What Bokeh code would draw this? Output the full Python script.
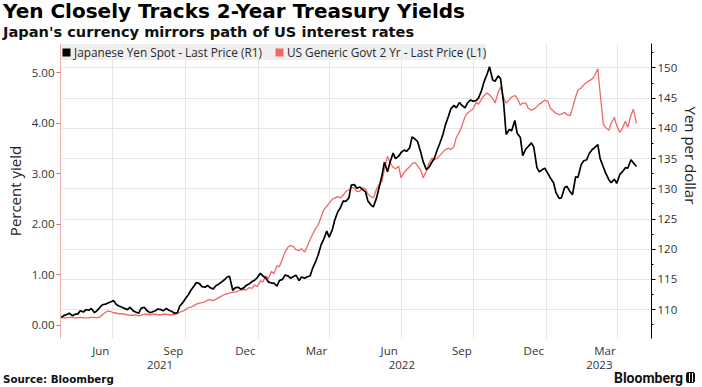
import pandas as pd
from bokeh.plotting import figure
from bokeh.layouts import column
from bokeh.models import (LinearAxis, DatetimeAxis, Range1d, FixedTicker, DatetimeTickFormatter,
                          PrintfTickFormatter, Title, Legend, LegendItem, Div)
from bokeh.embed import file_html
from bokeh.resources import INLINE

# ---- data: twice-weekly readings (Tuesdays and Fridays) ----
tuesdays = pd.date_range("2021-04-27", "2023-04-25", freq="7D")
fridays = pd.date_range("2021-04-30", "2023-04-21", freq="7D")
dates = tuesdays.append(fridays).sort_values()

yen = [108.7, 109.0, 109.2, 109.4, 109.0, 109.2, 109.3, 109.8, 109.6, 110.0,
       109.9, 110.2, 109.5, 109.8, 110.4, 110.8, 110.9, 111.1, 111.3, 111.5,
       110.8, 110.6, 110.4, 110.2, 110.0, 110.4, 109.8, 109.6, 109.4, 110.2,
       110.4, 109.9, 109.5, 109.6, 109.8, 110.1, 110.0, 109.8, 110.2, 109.9,
       109.7, 109.4, 109.5, 110.6, 111.2, 111.8, 112.5, 113.2, 113.9, 114.5,
       114.3, 113.8, 113.7, 114.0, 113.6, 113.4, 114.0, 114.2, 114.6, 114.9,
       115.4, 115.5, 113.2, 113.6, 113.7, 113.4, 113.6, 114.0, 114.3, 114.6,
       114.9, 115.3, 116.0, 115.6, 115.2, 114.6, 114.4, 114.4, 113.9, 114.8,
       115.0, 115.7, 115.6, 115.2, 115.5, 115.7, 114.8, 115.4, 115.2, 115.4,
       115.6, 116.8, 118.0, 119.0, 120.8, 121.6, 123.0, 122.0, 123.2, 124.8,
       126.2, 126.8, 128.0, 127.9, 128.5, 130.6, 130.7, 130.1, 130.3, 129.9,
       129.5, 128.0, 127.3, 127.0, 128.5, 130.1, 132.3, 134.4, 132.8, 134.4,
       135.9, 135.0, 135.4, 136.0, 136.4, 136.2, 136.8, 138.6, 138.2, 137.8,
       136.0, 134.5, 133.2, 133.5, 134.4, 135.0, 136.5, 137.5, 139.0, 140.5,
       142.0, 143.2, 143.8, 143.4, 144.3, 143.8, 143.4, 144.2, 144.7, 144.5,
       144.6, 145.0, 146.3, 147.7, 149.0, 150.2, 148.0, 147.8, 148.7, 148.2,
       144.0, 139.0, 139.8, 139.6, 141.3, 139.2, 138.5, 135.5, 136.6, 137.0,
       137.6, 136.9, 133.5, 132.8, 133.2, 133.4, 132.5, 131.8, 131.0, 129.4,
       128.4, 128.5, 130.2, 130.4, 129.5, 129.0, 132.0, 131.9, 134.0, 134.6,
       134.8, 135.8, 136.5, 136.8, 137.3, 135.0, 133.6, 132.6, 131.5, 131.0,
       131.6, 130.9, 132.4, 132.8, 133.5, 133.4, 134.8, 134.3,
       133.7]

yield_2y = [0.16, 0.15, 0.15, 0.16, 0.16, 0.15, 0.15, 0.16, 0.15, 0.15,
            0.15, 0.16, 0.16, 0.15, 0.17, 0.21, 0.26, 0.28, 0.27, 0.25,
            0.24, 0.23, 0.23, 0.22, 0.21, 0.20, 0.20, 0.21, 0.19, 0.20,
            0.22, 0.22, 0.21, 0.22, 0.22, 0.21, 0.21, 0.22, 0.22, 0.21,
            0.21, 0.22, 0.23, 0.26, 0.28, 0.31, 0.35, 0.36, 0.39, 0.42,
            0.44, 0.45, 0.47, 0.50, 0.51, 0.49, 0.52, 0.55, 0.58, 0.61,
            0.63, 0.64, 0.66, 0.66, 0.68, 0.70, 0.71, 0.70, 0.75, 0.73,
            0.80, 0.77, 0.88, 0.86, 0.98, 0.92, 1.07, 1.02, 1.18, 1.16,
            1.32, 1.45, 1.55, 1.58, 1.56, 1.50, 1.48, 1.52, 1.45, 1.55,
            1.70, 1.80, 1.92, 1.98, 2.15, 2.28, 2.36, 2.42, 2.50, 2.52,
            2.55, 2.52, 2.58, 2.65, 2.68, 2.72, 2.72, 2.65, 2.66, 2.72,
            2.70, 2.60, 2.55, 2.52, 2.70, 2.78, 2.85, 3.10, 3.35, 3.22,
            3.13, 3.10, 3.15, 2.92, 3.03, 3.08, 3.14, 3.20, 3.22, 3.15,
            3.07, 2.92, 3.05, 3.20, 3.31, 3.28, 3.31, 3.36, 3.43, 3.48,
            3.51, 3.48, 3.54, 3.72, 3.83, 3.95, 4.13, 4.20, 4.25, 4.28,
            4.41, 4.38, 4.48, 4.55, 4.60, 4.56, 4.49, 4.40, 4.62, 4.72,
            4.50, 4.40, 4.47, 4.52, 4.55, 4.50, 4.36, 4.40, 4.40, 4.30,
            4.26, 4.28, 4.33, 4.38, 4.42, 4.46, 4.43, 4.30, 4.24, 4.20,
            4.17, 4.18, 4.22, 4.17, 4.15, 4.30, 4.52, 4.66, 4.70, 4.76,
            4.81, 4.84, 4.88, 4.95, 5.08, 4.60, 3.98, 3.92, 3.86, 4.00,
            4.12, 3.95, 3.82, 3.90, 4.04, 3.92, 4.16, 4.28,
            4.00]

month_ticks = ["2021-06-16", "2021-09-16", "2021-12-16", "2022-03-16",
               "2022-06-16", "2022-09-16", "2022-12-16", "2023-03-16"]
quarter_lines = ["2021-07-01", "2021-10-01", "2022-01-01", "2022-04-01",
                 "2022-07-01", "2022-10-01", "2023-01-01", "2023-04-01"]
year_label_pos = ["2021-08-30", "2022-07-02", "2023-03-09"]
left_ticks = [0, 1, 2, 3, 4, 5]
right_ticks = [110, 115, 120, 125, 130, 135, 140, 145, 150]
right_minor = [107.5, 112.5, 117.5, 122.5, 127.5, 132.5, 137.5, 142.5, 147.5, 152.5]

TITLE = "Yen Closely Tracks 2-Year Treasury Yields"
SUBTITLE = "Japan's currency mirrors path of US interest rates"
RED = "#f06868"
TXT = "#333333"
W = 702


def ms(s):
    return pd.Timestamp(s).value // 10**6


# ---- header ----
header = Div(text=(
    '<div style="position:relative;width:%dpx;height:42px;">'
    '<div style="position:absolute;left:3px;top:0px;white-space:nowrap;color:#000;'
    'font-family:\'DejaVu Sans\';font-weight:bold;font-size:20px;line-height:22px;">%s</div>'
    '<div style="position:absolute;left:3px;top:22px;white-space:nowrap;color:#111;'
    'font-family:\'DejaVu Sans\';font-weight:bold;font-size:14.6px;line-height:20px;">%s</div>'
    '</div>') % (W, TITLE, SUBTITLE.replace("'", "&#39;")),
    width=W, height=42, margin=(0, 0, 0, 0))

# ---- chart ----
p = figure(width=W, height=329, x_axis_type="datetime", output_backend="svg",
           toolbar_location=None, title=None,
           x_range=Range1d(ms("2021-04-26"), ms("2023-05-14")),
           y_range=Range1d(-0.26, 5.58),
           min_border_left=60, min_border_right=0, min_border_top=1, min_border_bottom=0)
p.extra_y_ranges = {"yen": Range1d(105.22, 154.05)}
p.outline_line_color = None
p.background_fill_color = "white"

p.line(dates, yield_2y, line_color=RED, line_width=1.3)
p.line(dates, yen, y_range_name="yen", line_color="black", line_width=1.7)

# legend swatches (zero-size quads, only their legend glyph shows)
sq_b = p.quad(left=[dates[0]], right=[dates[0]], top=[yield_2y[0]], bottom=[yield_2y[0]],
              fill_color="black", line_color=None)
sq_r = p.quad(left=[dates[0]], right=[dates[0]], top=[yield_2y[0]], bottom=[yield_2y[0]],
              fill_color=RED, line_color=None)
legend = Legend(items=[LegendItem(label="Japanese Yen Spot - Last Price (R1)", renderers=[sq_b]),
                       LegendItem(label="US Generic Govt 2 Yr - Last Price (L1)", renderers=[sq_r])],
                location="top_left", orientation="horizontal", margin=1, padding=3,
                spacing=12, glyph_width=10, glyph_height=10, label_standoff=3,
                label_text_font="Open Sans", label_text_font_size="11.8px", label_text_color="#2a2a2a",
                background_fill_color="#efefef", background_fill_alpha=1.0,
                border_line_color=None, label_height=12)
p.add_layout(legend)

# left axis
yl = p.yaxis[0]
yl.ticker = FixedTicker(ticks=left_ticks)
yl.formatter = PrintfTickFormatter(format="%.2f")
yl.axis_line_color = "#f5b0b0"
yl.major_tick_line_color = RED
yl.major_tick_out = 4
yl.major_tick_in = 0
yl.minor_tick_line_color = None
yl.major_label_text_font = "Open Sans"
yl.major_label_text_font_size = "11.5px"
yl.major_label_text_color = TXT
yl.major_label_standoff = 2
yl.axis_label = "Percent yield"
yl.axis_label_text_font = "Open Sans"
yl.axis_label_text_font_size = "15px"
yl.axis_label_text_font_style = "normal"
yl.axis_label_text_color = "#222222"
yl.axis_label_standoff = 4

# right axis; its title is a side Title so that it can sit above centre like the original
yr = LinearAxis(y_range_name="yen", ticker=FixedTicker(ticks=right_ticks, minor_ticks=right_minor))
yr.axis_line_color = "black"
yr.major_tick_line_color = "black"
yr.minor_tick_line_color = "black"
yr.major_tick_out = 4
yr.major_tick_in = 0
yr.minor_tick_out = 2
yr.minor_tick_in = 0
yr.major_label_text_font = "Open Sans"
yr.major_label_text_font_size = "11.5px"
yr.major_label_text_color = TXT
yr.major_label_standoff = 2
p.add_layout(yr, "right")
rtitle = Title(text="Yen per dollar", align="left", offset=63, standoff=0,
               text_font="Open Sans", text_font_size="15px", text_font_style="normal",
               text_color="#222222")
p.add_layout(rtitle, "right")

# bottom (month) axis
xa = p.xaxis[0]
xa.ticker = FixedTicker(ticks=[ms(d) for d in month_ticks])
xa.formatter = DatetimeTickFormatter(days="%b", months="%b", years="%b")
xa.axis_line_color = None
xa.major_tick_line_color = None
xa.minor_tick_line_color = None
xa.major_tick_out = 0
xa.major_tick_in = 0
xa.minor_tick_out = 0
xa.major_label_standoff = 4
xa.major_label_text_font = "Open Sans"
xa.major_label_text_font_size = "11.5px"
xa.major_label_text_color = TXT

# year axis
ya = DatetimeAxis(ticker=FixedTicker(ticks=[ms(d) for d in year_label_pos]),
                  formatter=DatetimeTickFormatter(days="%Y", months="%Y", years="%Y"))
ya.axis_line_color = None
ya.major_tick_line_color = None
ya.minor_tick_line_color = None
ya.major_tick_out = 0
ya.major_tick_in = 0
ya.minor_tick_out = 0
ya.major_label_standoff = 0
ya.major_label_text_font = "Open Sans"
ya.major_label_text_font_size = "11.5px"
ya.major_label_text_color = TXT
p.add_layout(ya, "below")

# grids
p.xgrid.ticker = FixedTicker(ticks=[ms(d) for d in quarter_lines])
p.xgrid.grid_line_color = "#e6e6e6"
p.ygrid.y_range_name = "yen"
p.ygrid.ticker = FixedTicker(ticks=right_ticks)
p.ygrid.grid_line_color = "#e6e6e6"

# ---- footer ----
footer = Div(text=(
    '<div style="display:flex;justify-content:space-between;align-items:flex-start;'
    'width:%dpx;height:16px;color:#111;">'
    '<span style="margin-left:3px;margin-top:1px;font-family:\'DejaVu Sans\';font-weight:bold;'
    'font-size:10.3px;line-height:12px;">Source: Bloomberg</span>'
    '<span style="display:flex;align-items:flex-start;margin-right:7px;">'
    '<span style="margin-top:-2px;font-family:Roboto;font-weight:bold;font-size:14px;line-height:16px;">'
    'Bloomberg</span>'
    '<span style="display:inline-block;width:9px;height:11px;margin-left:3px;margin-top:0px;'
    'border-radius:2px;background:repeating-linear-gradient(90deg,#111 0px,#111 2px,#fff 2px,#fff 3px);'
    'border:1px solid #111;"></span></span></div>') % W,
    width=W, height=16, margin=(0, 0, 0, 0))

layout = column(header, p, footer, spacing=0)
open("out.html", "w").write(file_html(layout, INLINE))
